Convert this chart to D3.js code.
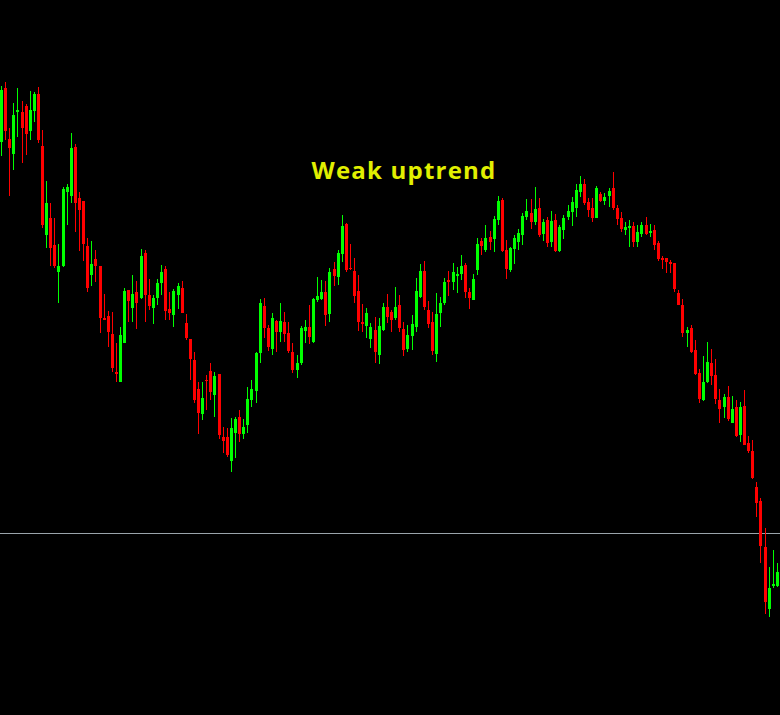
<!DOCTYPE html>
<html lang="en">
<head>
<meta charset="UTF-8">
<title>Weak uptrend</title>
<style>
  html, body { margin: 0; padding: 0; background: #000; overflow: hidden; }
</style>
</head>
<body>
<script src="https://d3js.org/d3.v7.min.js"></script>
<script>
// OHLC (price points)
const open = [858,912,861,846,888,888,894,869,889,906,854,765,782,755,728,734,808,804,853,802,
  799,754,725,741,734,682,684,666,628,618,657,710,692,708,702,747,705,692,702,717,
  731,691,685,705,712,677,661,640,611,586,620,629,605,626,563,563,539,567,583,566,
  575,600,609,647,694,672,651,679,668,678,667,648,630,637,669,673,658,700,701,708,
  686,731,723,746,776,732,729,709,678,674,661,670,645,670,693,688,682,695,671,651,
  664,673,703,729,690,678,646,687,697,720,718,724,726,735,708,700,730,759,750,763,
  761,780,800,750,730,751,758,765,783,787,778,792,766,780,758,780,749,770,783,788,
  792,808,816,798,792,782,806,799,804,812,792,782,770,772,774,758,766,775,767,770,
  757,742,742,738,737,707,695,667,672,650,627,600,618,637,625,600,593,603,577,593,
  565,594,557,549,513,499,453,391,414,414];
const high = [914,918,872,897,912,899,896,909,908,913,870,819,797,782,756,813,816,867,856,808,
  799,762,759,750,734,706,689,688,657,673,712,710,725,719,751,750,721,705,721,735,
  734,708,711,717,719,686,661,648,618,618,625,637,628,626,573,572,582,583,590,581,
  613,620,648,701,702,675,687,680,697,688,678,657,645,674,680,695,702,723,720,719,
  732,738,750,785,777,756,742,725,696,692,677,683,682,697,706,690,713,705,678,675,
  685,722,736,739,699,688,707,703,722,729,737,733,745,737,712,726,762,762,775,769,
  784,804,802,760,753,765,771,787,801,801,813,802,781,783,789,786,775,785,795,803,
  816,824,821,802,802,814,808,807,812,828,795,788,778,780,778,775,778,783,776,775,
  759,744,742,740,737,710,701,673,675,660,631,644,658,651,641,611,606,614,604,600,
  598,610,564,560,518,502,472,433,450,437];
const low = [844,860,804,830,863,837,845,860,878,857,772,752,734,732,697,733,775,797,768,749,
  739,708,714,718,667,680,653,628,618,618,657,678,678,671,701,678,690,676,695,705,
  680,680,673,691,687,660,620,597,566,580,590,600,583,561,547,543,528,542,558,561,
  567,593,597,637,662,649,645,648,658,658,647,627,622,635,657,656,657,698,700,674,
  678,714,715,738,728,730,697,669,668,662,652,637,636,669,677,668,680,668,644,648,
  650,668,702,690,672,645,638,673,695,704,710,707,720,702,691,700,725,745,748,750,
  748,775,748,721,728,736,750,755,780,771,775,763,759,753,753,748,748,761,780,774,
  783,803,795,783,778,782,798,795,793,790,775,768,765,753,753,753,763,765,763,750,
  739,731,727,727,708,695,663,653,647,625,597,599,617,615,596,577,582,579,577,563,
  558,555,547,521,483,437,386,383,412,413];
const close = [910,869,852,885,890,872,866,890,906,860,775,797,752,734,734,811,813,852,797,790,
  756,712,736,734,682,680,668,632,626,665,709,699,706,697,744,705,694,702,717,728,
  689,687,709,714,687,662,641,600,587,602,619,608,624,565,559,545,572,581,566,573,
  601,611,647,697,672,653,682,668,679,666,649,630,637,672,673,663,701,704,708,685,
  728,724,747,774,730,731,704,678,676,687,673,648,674,693,683,680,693,672,650,665,
  676,709,729,693,676,649,686,697,718,718,728,726,734,708,702,721,756,754,762,758,
  781,799,749,731,752,762,767,784,789,778,791,765,778,757,779,749,773,782,789,798,
  810,816,797,790,782,812,799,803,809,792,781,771,773,774,758,768,775,766,769,755,
  741,740,738,736,711,695,667,670,648,626,601,618,638,624,601,591,603,581,591,564,
  593,555,549,522,497,454,398,412,416,428];

const levelLine = 467;          // horizontal price line
const label = "Weak uptrend";

const W = 780, H = 715;
const up = "#00ff00", down = "#ff0000";

const svg = d3.select("body").append("svg")
  .attr("width", W)
  .attr("height", H)
  .style("display", "block")
  .style("background", "#000");

const x = d3.scaleBand().domain(d3.range(open.length)).range([0, W]);
const y = d3.scaleLinear().domain([285, 1000]).range([H, 0]);

const bars = open.map((o, i) => ({ o, h: high[i], l: low[i], c: close[i] }));

svg.append("line")
  .attr("x1", 0).attr("x2", W)
  .attr("y1", Math.round(y(levelLine)) + 0.5)
  .attr("y2", Math.round(y(levelLine)) + 0.5)
  .attr("stroke", "#9aa4aa")
  .attr("stroke-width", 1);

const g = svg.append("g").attr("shape-rendering", "crispEdges");

const candle = g.selectAll("g.c").data(bars).enter().append("g")
  .attr("fill", d => d.c >= d.o ? up : down)
  .attr("stroke", d => d.c >= d.o ? up : down);

candle.append("line")
  .attr("x1", (d, i) => Math.round(x(i)) + 1.5)
  .attr("x2", (d, i) => Math.round(x(i)) + 1.5)
  .attr("y1", d => Math.round(y(d.h)))
  .attr("y2", d => Math.round(y(d.l)))
  .attr("stroke-width", 1);

candle.append("rect")
  .attr("stroke", "none")
  .attr("x", (d, i) => Math.round(x(i)))
  .attr("width", 3)
  .attr("y", d => Math.round(y(Math.max(d.o, d.c))))
  .attr("height", d => Math.max(1, Math.round(y(Math.min(d.o, d.c))) - Math.round(y(Math.max(d.o, d.c)))));

svg.append("text")
  .attr("x", 404)
  .attr("y", 179)
  .attr("text-anchor", "middle")
  .attr("fill", "#e1ef00")
  .style("font-family", "'Open Sans', sans-serif")
  .style("font-weight", "bold")
  .style("font-size", "24px")
  .style("letter-spacing", "1.2px")
  .text(label);
</script>
</body>
</html>
